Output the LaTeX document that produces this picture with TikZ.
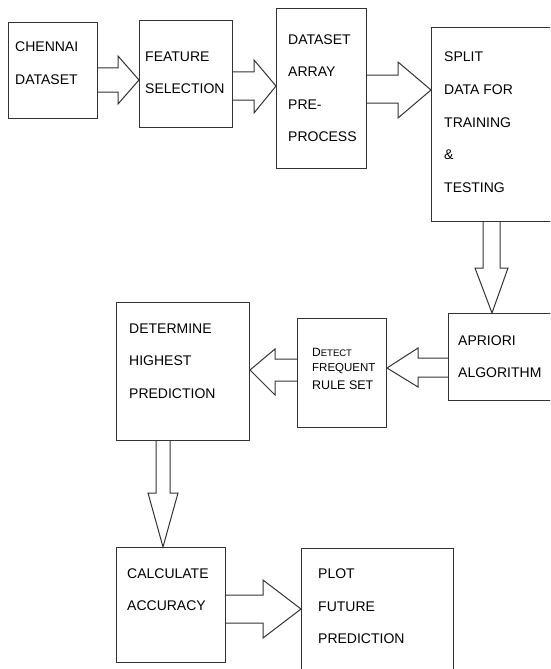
\documentclass[tikz,border=0pt]{standalone}
\usepackage{fontspec}
\setmainfont{Liberation Sans}
\usepackage{tikz}
\usetikzlibrary{positioning}

\tikzset{
  blk/.style={draw=black!80, line width=1pt, inner sep=0pt, anchor=north west},
  txt/.style={inner sep=0pt, anchor=west, font=\fontsize{14}{14}\selectfont},
  bar/.style={draw=black!80, line width=1pt, line join=miter}
}

\begin{document}
\begin{tikzpicture}[x=1pt, y=-1pt]
\clip (0,0) rectangle (550,669);
\fill[white] (0,0) rectangle (550,669);
% boxes
\node[blk, minimum width=89pt, minimum height=96pt] (chennai) at (8,22) {};
\node[blk, minimum width=93pt, minimum height=107pt] (feature) at (139,20) {};
\node[blk, minimum width=90pt, minimum height=160pt] (array) at (276,8) {};
\node[blk, minimum width=130pt, minimum height=194pt] (split) at (431,27) {};
\node[blk, minimum width=115pt, minimum height=87pt] (apriori) at (448,313) {};
\node[blk, minimum width=89pt, minimum height=109pt] (detect) at (297,318) {};
\node[blk, minimum width=133pt, minimum height=138pt] (highest) at (116,302) {};
\node[blk, minimum width=109pt, minimum height=115pt] (accuracy) at (116,547) {};
\node[blk, minimum width=152pt, minimum height=130pt] (plot) at (301,548) {};
% texts
\node[txt] at (15,47) {CHENNAI};
\node[txt] at (15,80) {DATASET};
\node[txt] at (145,57) {FEATURE};
\node[txt] at (145,89) {SELECTION};
\node[txt] at (288,40) {DATASET};
\node[txt] at (288,72) {ARRAY};
\node[txt] at (288,105) {PRE-};
\node[txt] at (288,137) {PROCESS};
\node[txt] at (444,57) {SPLIT};
\node[txt] at (444,90) {DATA FOR};
\node[txt] at (444,123) {TRAINING};
\node[txt] at (444,155) {\&};
\node[txt] at (444,188) {TESTING};
\node[txt] at (458,341) {APRIORI};
\node[txt] at (458,373) {ALGORITHM};
\node[txt, font=\fontsize{12}{12}\selectfont] at (312,352) {D{\fontsize{9.5}{9.5}\selectfont ETECT}};
\node[txt, font=\fontsize{11.5}{11.5}\selectfont] at (312,369) {FREQUENT};
\node[txt, font=\fontsize{12.5}{12.5}\selectfont] at (312,385) {RULE SET};
\node[txt] at (129,329) {DETERMINE};
\node[txt] at (129,361) {HIGHEST};
\node[txt] at (129,394) {PREDICTION};
\node[txt] at (127,574) {CALCULATE};
\node[txt] at (127,606) {ACCURACY};
\node[txt] at (318,574) {PLOT};
\node[txt] at (318,607) {FUTURE};
\node[txt] at (318,639) {PREDICTION};
% block arrows
\draw[bar] (chennai.east |- 0,68) -- (118,68) -- (118,56) -- (feature.west |- 0,80)
  -- (118,104) -- (118,92) -- (chennai.east |- 0,92);
\draw[bar] (feature.east |- 0,72) -- (254,72) -- (254,60) -- (array.west |- 0,86)
  -- (254,113) -- (254,100) -- (feature.east |- 0,100);
\draw[bar] (array.east |- 0,75) -- (398,75) -- (398,62) -- (split.west |- 0,90)
  -- (398,118) -- (398,103) -- (array.east |- 0,103);
\draw[bar] (split.south -| 483,0) -- (483,268) -- (475,268) -- (apriori.north -| 492,0)
  -- (508,268) -- (500,268) -- (split.south -| 500,0);
\draw[bar] (apriori.west |- 0,358) -- (418,358) -- (418,348) -- (detect.east |- 0,368)
  -- (418,387) -- (418,377) -- (apriori.west |- 0,377);
\draw[bar] (detect.west |- 0,359) -- (275,359) -- (275,349) -- (highest.east |- 0,370)
  -- (275,395) -- (275,381) -- (detect.west |- 0,381);
\draw[bar] (highest.south -| 156,0) -- (156,493) -- (148,493) -- (accuracy.north -| 163,0)
  -- (178,493) -- (170,493) -- (highest.south -| 170,0);
\draw[bar] (accuracy.east |- 0,595) -- (263,595) -- (263,580) -- (plot.west |- 0,609)
  -- (263,638) -- (263,623) -- (accuracy.east |- 0,623);
\end{tikzpicture}
\end{document}
